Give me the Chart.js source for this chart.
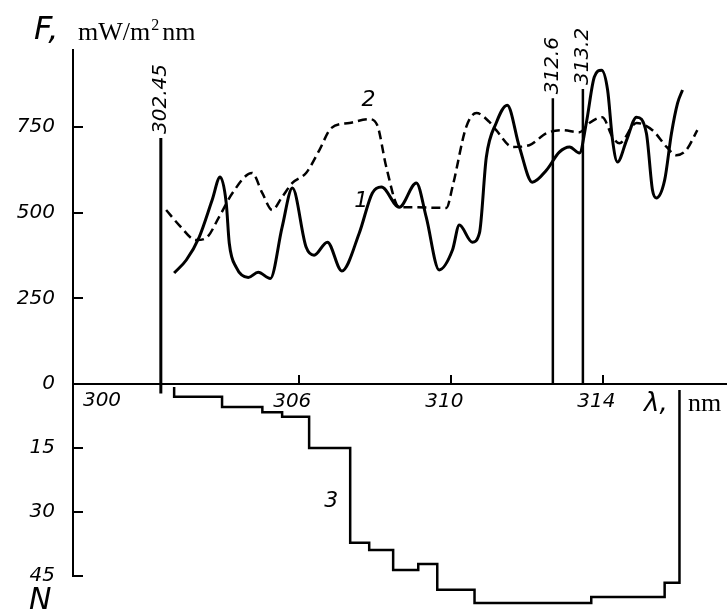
<!DOCTYPE html>
<html>
<head>
<meta charset="utf-8">
<script src="https://cdn.jsdelivr.net/npm/chart.js@4.4.0/dist/chart.umd.min.js"></script>
<style>
    html, body { margin: 0; padding: 0; background: #fff; }
    canvas { display: block; }
</style>
</head>
<body>
<canvas id="spectrumChart" width="727" height="610"></canvas>
<script>
// curve 1 (solid) - F, mW/m2 nm
const lambda1 = [302.71, 303.03, 303.37, 303.71, 303.92, 304.08, 304.16, 304.34, 304.66, 304.92, 305.24, 305.55, 305.82,
    306.18, 306.39, 306.74, 307.12, 307.58, 307.92, 308.16, 308.63, 309.08, 309.34, 309.68, 310.03, 310.21, 310.55,
    310.74, 310.92, 311.18, 311.47, 311.79, 312.13, 312.50, 312.84, 313.11, 313.37, 313.55, 313.76, 313.95, 314.11,
    314.24, 314.37, 314.61, 314.87, 315.13, 315.29, 315.39, 315.61, 315.79, 315.95, 316.08];
const flux1 = [324, 362, 429, 537, 604, 528, 411, 341, 311, 326, 308, 458, 572,
    400, 376, 414, 330, 441, 557, 575, 516, 587, 487, 333, 391, 464, 414,
    441, 662, 762, 814, 692, 589, 624, 677, 692, 674, 762, 896, 916, 858,
    712, 648, 712, 779, 732, 566, 543, 595, 732, 820, 858];

// curve 2 (dashed)
const lambda2 = [302.50, 302.84, 303.29, 303.55, 303.89, 304.24, 304.76, 305.03, 305.29, 305.55, 305.82, 306.18,
    306.53, 306.84, 307.32, 307.84, 308.05, 308.29, 308.63, 308.97, 309.87, 310.03, 310.39, 310.66, 311.00,
    311.18, 311.61, 312.05, 312.50, 312.92, 313.37, 313.63, 313.97, 314.24, 314.42, 314.87, 315.29, 315.66,
    315.92, 316.18, 316.47];
const flux2 = [508, 464, 420, 426, 487, 557, 616, 557, 508, 546, 587, 616,
    683, 747, 762, 773, 756, 633, 516, 516, 514, 575, 750, 791, 765,
    741, 692, 697, 732, 741, 735, 762, 779, 721, 703, 762, 741, 692,
    668, 683, 741];

// curve 3 (steps) - N, counted downwards
const lambda3 = [302.71, 302.71, 303.97, 305.03, 305.55, 306.26, 307.34, 307.84, 308.47, 309.13, 309.63, 310.61,
    313.68, 315.61, 316.0];
const count3 = [0.7, 3.0, 5.4, 6.6, 7.7, 15.0, 37.2, 38.9, 43.6, 42.2, 48.2, 51.3, 49.9, 46.6, 1.4];

// vertical lines with their wavelengths
const markerLambda = [302.36, 312.67, 313.46];
const markerTop = [718, 834, 861];
const markerBottom = [-28, 0, 0];
const markerLabels = ['302.45', '312.6', '313.2'];
const markerWidths = [3, 2.5, 2.5];

// curve numbers
const curveNames = ['1', '2', '3'];
const curveNameLambda = [307.63, 307.82, 306.84];
const curveNameValue = [534, 829, 27.4];
const curveNameAxis = ['y', 'y', 'yN'];

// ticks
const fluxTicks = [0, 250, 500, 750];
const countTicks = [15, 30, 45];
const lambdaTicks = [306, 310, 314];

const tickFont = { family: 'DejaVu Sans', style: 'italic', size: 20 };

const zip = (xs, ys) => xs.map((x, i) => ({ x: x, y: ys[i] }));

const datasets = [
    {
        data: zip(lambda1, flux1), yAxisID: 'y',
        borderColor: '#000', borderWidth: 3, cubicInterpolationMode: 'monotone'
    },
    {
        data: zip(lambda2, flux2), yAxisID: 'y',
        borderColor: '#000', borderWidth: 2.5, borderDash: [9, 5], cubicInterpolationMode: 'monotone'
    },
    {
        data: zip(lambda3, count3), yAxisID: 'yN',
        borderColor: '#000', borderWidth: 2.5, stepped: 'before', clip: false
    }
];
markerLambda.forEach((l, i) => {
    datasets.push({
        data: [{ x: l, y: markerTop[i] }, { x: l, y: markerBottom[i] }],
        yAxisID: 'y', borderColor: '#000', borderWidth: markerWidths[i], clip: false
    });
});

// y axes: fixed width, no extra padding from labels
function fitLeftAxis(s) {
    s.width = 73;
    s.paddingTop = 0;
    s.paddingBottom = 0;
}

// texts: axis names, curve numbers, marker wavelengths
const textPlugin = {
    id: 'texts',
    afterDraw(chart) {
        const ctx = chart.ctx;
        const xs = chart.scales.x;
        const area = chart.chartArea;
        ctx.save();
        ctx.fillStyle = '#000';

        // F, mW/m2 nm
        ctx.textAlign = 'left';
        ctx.textBaseline = 'alphabetic';
        ctx.font = 'italic 32px "DejaVu Sans"';
        ctx.fillText('F,', 34, 39);
        ctx.font = '26px "Liberation Serif"';
        let tx = 78;
        ctx.fillText('mW/m', tx, 40);
        tx += ctx.measureText('mW/m').width;
        ctx.font = '16px "Liberation Serif"';
        ctx.fillText('2', tx + 1, 30);
        tx += ctx.measureText('2').width + 4;
        ctx.font = '26px "Liberation Serif"';
        ctx.fillText('nm', tx, 40);

        // λ, nm
        ctx.font = 'italic 26px "DejaVu Sans"';
        ctx.fillText('λ,', 644, 411);
        ctx.font = '26px "Liberation Serif"';
        ctx.fillText('nm', 688, 411);

        // N
        ctx.font = 'italic 30px "DejaVu Sans"';
        ctx.fillText('N', 29, 609);

        // first tick label of the wavelength axis
        ctx.font = 'italic 20px "DejaVu Sans"';
        ctx.textAlign = 'center';
        ctx.textBaseline = 'middle';
        ctx.fillText('300', area.left + 29, 401);

        // curve numbers
        ctx.font = 'italic 22px "DejaVu Sans"';
        curveNames.forEach((t, i) => {
            const px = xs.getPixelForValue(curveNameLambda[i]);
            const py = chart.scales[curveNameAxis[i]].getPixelForValue(curveNameValue[i]);
            ctx.fillText(t, px, py);
        });

        // wavelengths of the vertical lines, rotated
        ctx.font = 'italic 20px "DejaVu Sans"';
        ctx.textAlign = 'left';
        markerLabels.forEach((t, i) => {
            const px = xs.getPixelForValue(markerLambda[i]);
            const py = chart.scales.y.getPixelForValue(markerTop[i]);
            ctx.save();
            ctx.translate(px, py - 4);
            ctx.rotate(-Math.PI / 2);
            ctx.fillText(t, 0, 0);
            ctx.restore();
        });
        ctx.restore();
    }
};

new Chart(document.getElementById('spectrumChart'), {
    type: 'line',
    data: { datasets: datasets },
    options: {
        responsive: false,
        animation: false,
        layout: { padding: { top: 50, bottom: 34, left: 0, right: 0 } },
        elements: { point: { radius: 0 }, line: { tension: 0 } },
        plugins: { legend: { display: false }, tooltip: { enabled: false } },
        scales: {
            x: {
                type: 'linear',
                min: 300.05,
                max: 317.25,
                position: { y: 0 },
                afterBuildTicks: s => { s.ticks = lambdaTicks.map(v => ({ value: v })); },
                afterFit: s => { s.height = 0; s.paddingLeft = 0; s.paddingRight = 0; },
                border: { color: '#000', width: 2 },
                grid: { drawOnChartArea: false, color: '#000', lineWidth: 2, tickLength: -10 },
                ticks: { color: '#000', font: tickFont, padding: 16, labelOffset: -7, autoSkip: false, maxRotation: 0 }
            },
            yN: {
                axis: 'y',
                type: 'linear',
                position: 'left',
                stack: 'panels',
                stackWeight: 192,
                reverse: true,
                min: 0,
                max: 45,
                afterBuildTicks: s => { s.ticks = countTicks.map(v => ({ value: v })); },
                afterFit: fitLeftAxis,
                border: { color: '#000', width: 2 },
                grid: { drawOnChartArea: false, color: '#000', lineWidth: 2, tickLength: -10 },
                ticks: { color: '#000', font: tickFont, padding: 28 }
            },
            y: {
                type: 'linear',
                position: 'left',
                stack: 'panels',
                stackWeight: 334,
                min: 0,
                max: 975,
                afterBuildTicks: s => { s.ticks = fluxTicks.map(v => ({ value: v })); },
                afterFit: fitLeftAxis,
                border: { color: '#000', width: 2 },
                grid: { drawOnChartArea: false, color: '#000', lineWidth: 2, tickLength: -10 },
                ticks: { color: '#000', font: tickFont, padding: 28 }
            }
        }
    },
    plugins: [textPlugin]
});
</script>
</body>
</html>
